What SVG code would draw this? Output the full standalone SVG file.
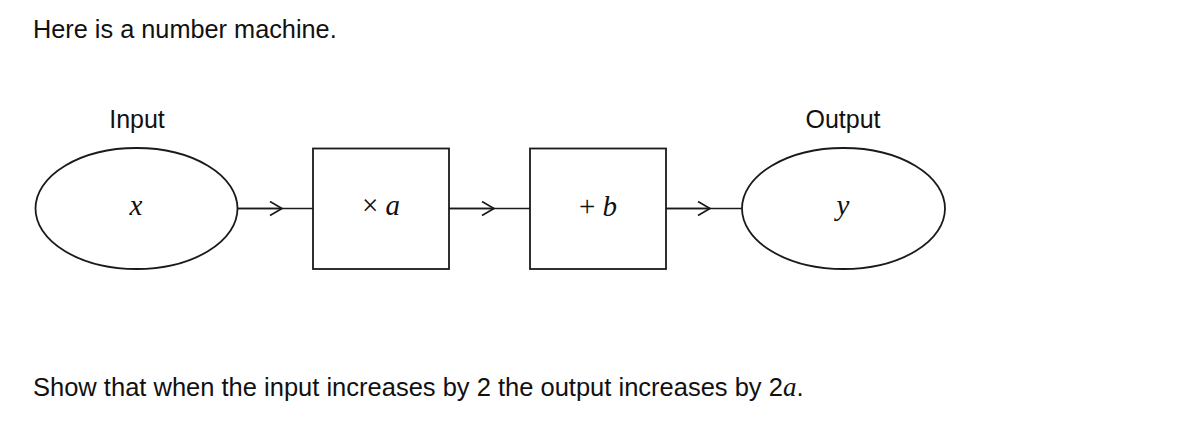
<svg xmlns="http://www.w3.org/2000/svg" width="1204" height="423" viewBox="0 0 1204 423">
  <defs>
    <marker id="chev" markerUnits="userSpaceOnUse" markerWidth="16" markerHeight="18" refX="13" refY="8" orient="auto">
      <path d="M1,1 L13,8 L1,15" fill="none" stroke="#1a1a1a" stroke-width="1.7"/>
    </marker>
  </defs>
  <style>
    .shape { fill: #fff; stroke: #1a1a1a; stroke-width: 1.8; }
    .conn { fill: none; stroke: #1a1a1a; stroke-width: 1.6; }
    .sans { font-family: "Liberation Sans", Arial, sans-serif; fill: #111; }
    .label { font-family: "Liberation Sans", Arial, sans-serif; font-size: 25px; fill: #111; text-anchor: middle; }
    .math { font-family: "Liberation Serif", "Times New Roman", serif; font-size: 29px; fill: #111; text-anchor: middle; }
    .it { font-style: italic; }
  </style>
  <rect width="1204" height="423" fill="#fff"/>

  <text class="sans" x="33" y="38" font-size="25.3">Here is a number machine.</text>

  <g id="connectors">
    <line class="conn" x1="237" y1="208.5" x2="313" y2="208.5"/>
    <line class="conn" x1="237" y1="208.5" x2="282" y2="208.5" marker-end="url(#chev)"/>
    <line class="conn" x1="449" y1="208.5" x2="530" y2="208.5"/>
    <line class="conn" x1="449" y1="208.5" x2="494" y2="208.5" marker-end="url(#chev)"/>
    <line class="conn" x1="666" y1="208.5" x2="742" y2="208.5"/>
    <line class="conn" x1="666" y1="208.5" x2="710" y2="208.5" marker-end="url(#chev)"/>
  </g>

  <g id="input">
    <text class="label" x="137" y="128">Input</text>
    <ellipse class="shape" cx="136.5" cy="208.5" rx="101" ry="60.5"/>
    <text class="math it" x="136" y="215">x</text>
  </g>

  <g id="multiply">
    <rect class="shape" x="313" y="148.5" width="136" height="120.5"/>
    <text class="math" x="381" y="215">× <tspan class="it">a</tspan></text>
  </g>

  <g id="add">
    <rect class="shape" x="530" y="148.5" width="136" height="120.5"/>
    <text class="math" x="598" y="216">+ <tspan class="it">b</tspan></text>
  </g>

  <g id="output">
    <text class="label" x="843" y="128">Output</text>
    <ellipse class="shape" cx="843.5" cy="208.5" rx="101.5" ry="60.5"/>
    <text class="math it" x="843" y="215">y</text>
  </g>

  <text class="sans" x="33" y="396" font-size="25.5">Show that when the input increases by 2 the output increases by 2<tspan font-family="Liberation Serif, serif" font-style="italic" font-size="27">a</tspan>.</text>
</svg>
